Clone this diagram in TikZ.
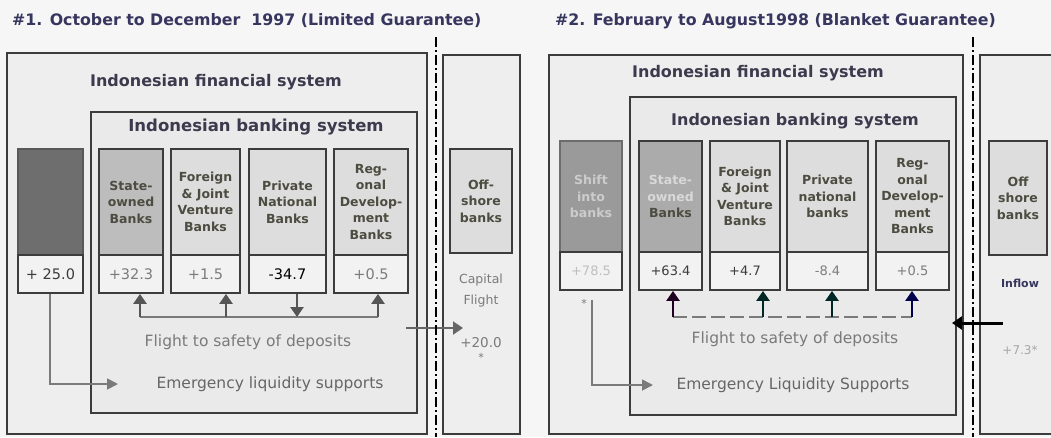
\documentclass[tikz,border=0pt]{standalone}
\usepackage{fontspec}
\setmainfont{DejaVu Sans}
\usetikzlibrary{arrows.meta}
\definecolor{bg}{HTML}{F6F6F6}
\definecolor{finfill}{HTML}{EEEEEE}
\definecolor{bankfill}{HTML}{EAEAEA}
\definecolor{cellfill}{HTML}{DDDDDD}
\definecolor{valfill}{HTML}{F2F2F2}
\definecolor{edge}{HTML}{3C3C3C}
\definecolor{titlec}{HTML}{36365E}
\definecolor{headc}{HTML}{3E3A4E}
\definecolor{labc}{HTML}{4C4C40}
\definecolor{greyt}{HTML}{7A7A7A}
\definecolor{arrc}{HTML}{555555}
\definecolor{darkbox}{HTML}{6E6E6E}
\definecolor{shiftbox}{HTML}{9A9A9A}
\definecolor{sobox}{HTML}{BDBDBD}
\definecolor{sobox2}{HTML}{ABABAB}
\definecolor{lightval}{HTML}{7C7C7C}
\tikzset{
  outerbox/.style={draw=edge, line width=1.4pt, fill=finfill, inner sep=0pt},
  bankbox/.style={draw=edge, line width=1.6pt, fill=bankfill, inner sep=0pt},
  cell/.style={draw=edge, line width=1.8pt, fill=cellfill, inner sep=0pt, align=center,
     font=\fontsize{12.5}{16.5}\selectfont\bfseries, text=labc},
  valbox/.style={draw=edge, line width=1.8pt, fill=valfill, inner sep=0pt,
     font=\fontsize{14.5}{16}\selectfont, text=edge},
  valboxb/.style={valbox, font=\fontsize{13}{16}\selectfont},
  ttl/.style={font=\fontsize{15.8}{18}\selectfont\bfseries, text=titlec, anchor=west, inner sep=0pt},
  head/.style={font=\fontsize{16}{18}\selectfont\bfseries, text=headc, inner sep=0pt},
  note/.style={font=\fontsize{15.5}{18}\selectfont, text=greyt, inner sep=0pt},
  sepline/.style={line width=2.6pt, dash pattern=on 10pt off 3pt on 2pt off 3pt, black},
  flow/.style={line width=2.6pt, draw=arrc, -{Triangle[width=13pt,length=10pt]}},
  emerg/.style={line width=1.8pt, draw=greyt, -{Triangle[width=11pt,length=11pt]}},
}
\begin{document}
\begin{tikzpicture}[x=1pt,y=-1pt]
\useasboundingbox (0,0) rectangle (1051,437);
\fill[bg] (0,0) rectangle (1051,437);

% ---------- Panel 1 ----------
\node[ttl] (t1) at (12,21) {\#1. October to December~ 1997 (Limited Guarantee)};
\node[outerbox, minimum width=420pt, minimum height=381pt] (fin1) at (217,243.5) {};
\node[outerbox, minimum width=77pt, minimum height=379pt] (off1) at (481.5,244.5) {};
\node[bankbox, minimum width=326pt, minimum height=301pt] (bank1) at (254,262.5) {};
\node[head] (fh1) at (216,82) {Indonesian financial system};
\node[head, font=\fontsize{16.5}{18}\selectfont\bfseries] (bh1) at (256,127) {Indonesian banking system};

\node[cell, fill=darkbox, draw=darkbox!80!black, minimum width=65pt, minimum height=106pt] (dk1) at (50.5,202) {};
\node[cell, fill=sobox, minimum width=64pt, minimum height=106pt] (so1) at (131,202) {State-\\owned\\Banks};
\node[cell, minimum width=69pt, minimum height=106pt] (fj1) at (205.5,202) {Foreign\\\&~Joint\\Venture\\Banks};
\node[cell, minimum width=77pt, minimum height=106pt] (pn1) at (287.5,202) {Private\\National\\Banks};
\node[cell, minimum width=74pt, minimum height=106pt] (rd1) at (371,202) {Reg-\\onal\\Develop-\\ment\\Banks};
\node[cell, minimum width=62pt, minimum height=104pt] (ob1) at (481,201) {Off-\\shore\\banks};

\node[valbox, minimum width=65pt, minimum height=38pt] (v10) at (50.5,274) {+ 25.0};
\node[valbox, text=lightval, minimum width=64pt, minimum height=38pt] (v11) at (131,274) {+32.3};
\node[valbox, text=lightval, minimum width=69pt, minimum height=38pt] (v12) at (205.5,274) {+1.5};
\node[valbox, text=black, minimum width=77pt, minimum height=38pt] (v13) at (287.5,274) {-34.7};
\node[valbox, text=lightval, minimum width=74pt, minimum height=38pt] (v14) at (371,274) {+0.5};

\coordinate (a11) at (140,317);
\coordinate (a12) at (226,317);
\coordinate (a13) at (297,317);
\coordinate (a14) at (378,317);
\draw[line width=1.6pt, draw=greyt] (a11) -- (a14);
\draw[flow] (a11) -- (a11 |- v11.south);
\draw[flow] (a12) -- (a12 |- v12.south);
\draw[flow] (a13 |- v13.south) -- (a13);
\draw[flow] (a14) -- (a14 |- v14.south);

\node[note] (fl1) at (248,342) {Flight to safety of deposits};
\node[note, text=gray!80!black] (em1) at (270,384) {Emergency liquidity supports};
\coordinate (e1) at (50,384);
\coordinate (e1t) at (118,384);
\draw[emerg] (v10.south -| e1) -- (e1) -- (e1t);

\node[note, align=center, font=\fontsize{12.5}{21}\selectfont] (cf1) at (481,291) {Capital\\Flight};
\node[note, font=\fontsize{13.5}{16}\selectfont] (cv1) at (481,343) {+20.0};
\node[note, font=\fontsize{11}{12}\selectfont] (cs1) at (481,357) {*};
\coordinate (c1a) at (406,328);
\coordinate (c1b) at (463,328);
\draw[flow, line width=2pt, draw=gray!80!black] (c1a) -- (c1b);

\coordinate (d1a) at (436,37);
\coordinate (d1b) at (436,437);
\draw[sepline] (d1a) -- (d1b);

% ---------- Panel 2 ----------
\node[ttl] (t2) at (555,21) {\#2. February to August1998 (Blanket Guarantee)};
\node[outerbox, minimum width=414pt, minimum height=379pt] (fin2) at (756,244.5) {};
\node[outerbox, minimum width=80pt, minimum height=379pt] (off2) at (1020,244.5) {};
\node[bankbox, minimum width=326pt, minimum height=318pt] (bank2) at (793,256) {};
\node[head] (fh2) at (758,73) {Indonesian financial system};
\node[head] (bh2) at (795,121) {Indonesian banking system};

\node[cell, fill=shiftbox, draw=shiftbox!70!black, text=gray!40, minimum width=62pt, minimum height=111pt] (sh2) at (591,196.5) {Shift\\into\\banks};
\node[cell, fill=sobox2, minimum width=63pt, minimum height=111pt] (so2) at (670.5,196.5) {\textcolor{gray!30}{State-}\\\textcolor{gray!30}{owned}\\Banks};
\node[cell, minimum width=70pt, minimum height=111pt] (fj2) at (745,196.5) {Foreign\\\&~Joint\\Venture\\Banks};
\node[cell, minimum width=81pt, minimum height=111pt] (pn2) at (827.5,196.5) {Private\\national\\banks};
\node[cell, minimum width=73pt, minimum height=111pt] (rd2) at (912.5,196.5) {Reg-\\onal\\Develop-\\ment\\Banks};
\node[cell, minimum width=58pt, minimum height=114pt] (ob2) at (1018,198) {Off\\shore\\banks};

\node[valboxb, text=gray!50, minimum width=62pt, minimum height=38pt] (v20) at (591,271) {+78.5};
\node[valboxb, minimum width=63pt, minimum height=38pt] (v21) at (670.5,271) {+63.4};
\node[valboxb, minimum width=70pt, minimum height=38pt] (v22) at (745,271) {+4.7};
\node[valboxb, text=lightval, minimum width=81pt, minimum height=38pt] (v23) at (827.5,271) {-8.4};
\node[valboxb, text=lightval, minimum width=73pt, minimum height=38pt] (v24) at (912.5,271) {+0.5};

\coordinate (a21) at (673,317);
\coordinate (a22) at (763,317);
\coordinate (a23) at (832,317);
\coordinate (a24) at (912,317);
\draw[line width=1.4pt, draw=greyt, dash pattern=on 14pt off 5pt] (a21) -- (a24);
\draw[flow, draw=black!75!violet] (a21) -- (a21 |- v21.south);
\draw[flow, draw=black!70!teal] (a22) -- (a22 |- v22.south);
\draw[flow, draw=black!70!teal] (a23) -- (a23 |- v23.south);
\draw[flow, draw=black!70!blue] (a24) -- (a24 |- v24.south);

\node[note] (fl2) at (795,339) {Flight to safety of deposits};
\node[note, text=gray!80!black] (em2) at (793,385) {Emergency Liquidity Supports};
\node[note, font=\fontsize{11}{12}\selectfont] (st2) at (584,303) {*};
\coordinate (e2a) at (592,300);
\coordinate (e2) at (592,385);
\coordinate (e2t) at (653,385);
\draw[emerg] (e2a) -- (e2) -- (e2t);

\node[font=\fontsize{11}{14}\selectfont\bfseries, text=titlec, inner sep=0pt] (in2) at (1020,283) {Inflow};
\node[note, text=gray!70, font=\fontsize{12}{14}\selectfont] (iv2) at (1020,350) {+7.3*};
\coordinate (i2a) at (1003,323);
\coordinate (i2b) at (952,323);
\draw[line width=3pt, black, -{Triangle[width=13pt,length=10pt]}] (i2a) -- (i2b);

\coordinate (d2a) at (973,37);
\coordinate (d2b) at (973,437);
\draw[sepline] (d2a) -- (d2b);
\end{tikzpicture}
\end{document}
